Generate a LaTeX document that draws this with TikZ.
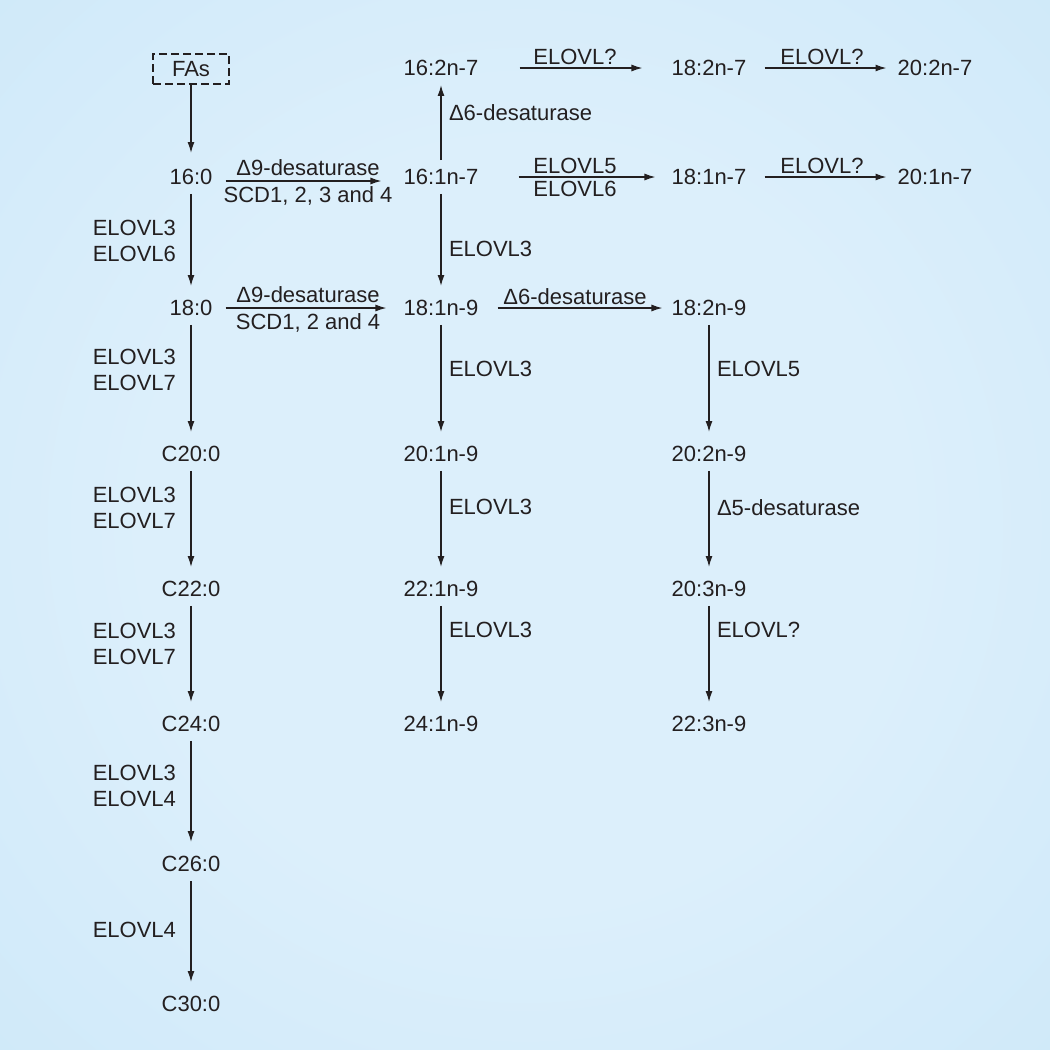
\documentclass[tikz,border=0pt]{standalone}
\usepackage{fontspec}
\setmainfont{Liberation Sans}
\usetikzlibrary{arrows.meta}
\definecolor{bgin}{HTML}{DCEFFB}
\definecolor{bgout}{HTML}{C2E3F7}
\definecolor{ink}{HTML}{231F20}
\pgfdeclareradialshading{glow}{\pgfpoint{0bp}{0bp}}{color(0bp)=(bgin); color(18bp)=(bgin); color(56bp)=(bgout)}
\begin{document}
\begin{tikzpicture}[x=1pt,y=-1pt,color=ink,font=\fontsize{22}{26}\selectfont,
    acid/.style={inner xsep=4pt,inner ysep=9pt},
    enz/.style={inner sep=3pt},
    wide/.style={inner sep=5pt},
    arr/.style={-{Latex[length=11pt,width=7pt]},line width=1.4pt},
    dn/.style={arr,shorten >=5pt}]
  \useasboundingbox (0,0) rectangle (1050,1050);
  \shade[shading=glow] (0,0) rectangle (1050,1050);
  % saturated chain
  \node[draw,dashed,dash pattern=on 8pt off 4pt,line width=1.2pt,minimum width=76pt,minimum height=30pt] (fas) at (191,69) {FAs};
  \foreach \y/\t [count=\i from 1] in {177/16:0,308/18:0,454/C20:0,589/C22:0,724/C24:0,864/C26:0,1004/C30:0}
    \node[acid] (a\i) at (191,\y) {\t};
  % n-7 and n-9 series
  \foreach \y/\t [count=\i from 0] in {68/16:2n-7,177/16:1n-7,308/18:1n-9,454/20:1n-9,589/22:1n-9,724/24:1n-9}
    \node[acid] (b\i) at (441,\y) {\t};
  \foreach \y/\t [count=\i from 0] in {68/18:2n-7,177/18:1n-7,308/18:2n-9,454/20:2n-9,589/20:3n-9,724/22:3n-9}
    \node[acid] (c\i) at (709,\y) {\t};
  \node[acid] (d0) at (935,68) {20:2n-7};
  \node[acid] (d1) at (935,177) {20:1n-7};

  \draw[arr,shorten >=7pt] (fas) -- (a1);
  \foreach \s/\t/\p/\l in {a1/a2/.48/{ELOVL3\\ELOVL6},a2/a3/.40/{ELOVL3\\ELOVL7},a3/a4/.37/{ELOVL3\\ELOVL7},
                           a4/a5/.38/{ELOVL3\\ELOVL7},a5/a6/.42/{ELOVL3\\ELOVL4},a6/a7/.46/ELOVL4}
    \draw[dn] (\s) -- node[pos=\p,left=11pt,align=right] {\l} (\t);
  \foreach \s/\t/\p/\l in {b1/b2/.57/ELOVL3,b2/b3/.39/ELOVL3,b3/b4/.36/ELOVL3,b4/b5/.24/ELOVL3,
                           c2/c3/.39/ELOVL5,c3/c4/.36/Δ5-desaturase,c4/c5/.24/ELOVL?}
    \draw[dn] (\s) -- node[pos=\p,right=4pt] {\l} (\t);
  \draw[arr] (b1) -- node[pos=.63,right=4pt] {Δ6-desaturase} (b0);

  \draw[arr,shorten <=9pt,shorten >=18pt] ([yshift=-4pt]a1.east) -- node[wide,above] {Δ9-desaturase} node[wide,below] {SCD1, 2, 3 and 4} ([yshift=-4pt]b1.west);
  \draw[arr,shorten <=9pt,shorten >=13pt] (a2) -- node[wide,above] {Δ9-desaturase} node[wide,below] {SCD1, 2 and 4} (b2);
  \draw[arr,shorten <=37pt,shorten >=25pt] (b0) -- node[enz,above] {ELOVL?} (c0);
  \draw[arr,shorten <=14pt,shorten >=7pt] (c0) -- node[enz,above] {ELOVL?} (d0);
  \draw[arr,shorten <=36pt,shorten >=12pt] (b1) -- node[enz,above] {ELOVL5} node[enz,below] {ELOVL6} (c1);
  \draw[arr,shorten <=14pt,shorten >=7pt] (c1) -- node[enz,above] {ELOVL?} (d1);
  \draw[arr,shorten <=15pt,shorten >=5pt] (b2) -- node[enz,above] {Δ6-desaturase} (c2);
\end{tikzpicture}
\end{document}
